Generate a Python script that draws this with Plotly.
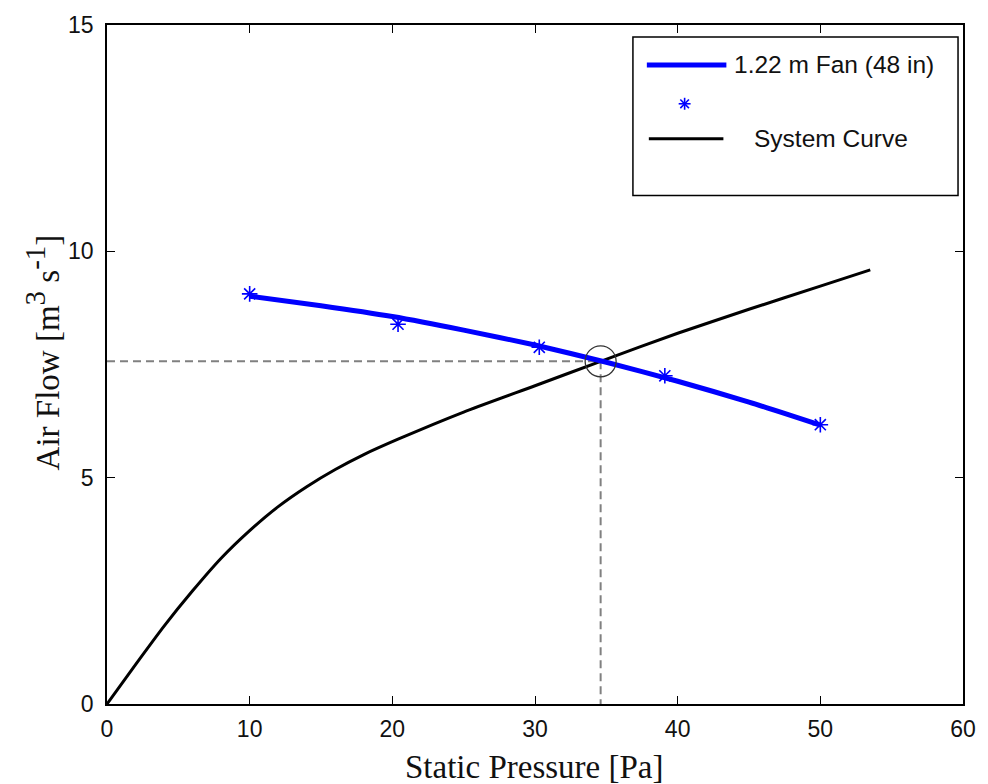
import plotly.graph_objects as go

# Measured fan performance (static pressure in Pa, air flow in m^3/s)
fan_pressure = [10.0, 20.4, 30.3, 39.1, 50.0]
fan_flow = [9.06, 8.39, 7.88, 7.25, 6.17]

# Fitted fan curve
fit_pressure = [10, 15, 20, 25, 30, 35, 40, 45, 50]
fit_flow = [9.01, 8.80, 8.56, 8.26, 7.93, 7.55, 7.13, 6.67, 6.16]

# System resistance curve
sys_pressure = [0, 2, 4, 6, 8, 10, 12, 14, 16, 18, 20.4, 25, 30, 34.6, 40, 45, 50, 53.5]
sys_flow = [0, 0.87, 1.72, 2.5, 3.22, 3.83, 4.36, 4.80, 5.18, 5.51, 5.85, 6.45, 7.03, 7.57, 8.19, 8.72, 9.23, 9.59]

# Operating point (intersection of fan and system curves)
op_pressure = 34.6
op_flow = 7.57

x_ticks = [0, 10, 20, 30, 40, 50, 60]
y_ticks = [0, 5, 10, 15]

W, H = 988, 784
L, R, T, B = 107, 20, 23, 80
PW, PH = W - L - R, H - T - B


def px(xp):
    return (xp - L) / PW


def py(yp):
    return (H - B - yp) / PH


fig = go.Figure()

# Dashed guides from the operating point to the axes
guide = dict(color="#808080", width=2, dash="8px,5px")
fig.add_trace(go.Scatter(x=[0, op_pressure], y=[op_flow, op_flow], mode="lines",
                         line=guide, showlegend=False, hoverinfo="skip"))
fig.add_trace(go.Scatter(x=[op_pressure, op_pressure], y=[op_flow, 0], mode="lines",
                         line=guide, showlegend=False, hoverinfo="skip"))

fig.add_trace(go.Scatter(x=sys_pressure, y=sys_flow, mode="lines",
                         line=dict(color="black", width=3, shape="spline", smoothing=0.5),
                         name="System Curve", showlegend=False))
fig.add_trace(go.Scatter(x=fit_pressure, y=fit_flow, mode="lines",
                         line=dict(color="#0000ff", width=5, shape="spline", smoothing=0.6),
                         name="1.22 m Fan (48 in)", showlegend=False))
fig.add_trace(go.Scatter(x=fan_pressure, y=fan_flow, mode="markers",
                         marker=dict(symbol="asterisk-open", size=13, color="#0000ff",
                                     line=dict(color="#0000ff", width=1.6)),
                         showlegend=False))
fig.add_trace(go.Scatter(x=[op_pressure], y=[op_flow], mode="markers",
                         marker=dict(symbol="circle-open", size=31, color="#333333",
                                     line=dict(color="#333333", width=1.3)),
                         showlegend=False, hoverinfo="skip"))

shapes = []
annotations = []

# Legend box
shapes.append(dict(type="rect", xref="paper", yref="paper",
                   x0=px(636), x1=px(963), y0=py(194), y1=py(35),
                   line=dict(color="black", width=1.5), fillcolor="white", layer="above"))
shapes.append(dict(type="line", xref="paper", yref="paper",
                   x0=px(650), x1=px(730), y0=py(63), y1=py(63),
                   line=dict(color="#0000ff", width=5), layer="above"))
# asterisk glyph for the marker entry
cx, cy, r = 688, 102, 6
for dx, dy in [(r, 0), (0, r), (r * 0.72, r * 0.72), (r * 0.72, -r * 0.72)]:
    shapes.append(dict(type="line", xref="paper", yref="paper",
                       x0=px(cx - dx), x1=px(cx + dx), y0=py(cy - dy), y1=py(cy + dy),
                       line=dict(color="#0000ff", width=1.6), layer="above"))
shapes.append(dict(type="line", xref="paper", yref="paper",
                   x0=px(652), x1=px(727), y0=py(137), y1=py(137),
                   line=dict(color="black", width=3), layer="above"))

legend_font = dict(family="Liberation Sans, Arial, sans-serif", size=24.5, color="#111111")
annotations.append(dict(xref="paper", yref="paper", x=px(736), y=py(63),
                        text="1.22 m Fan (48 in)", showarrow=False,
                        xanchor="left", yanchor="middle", font=legend_font))
annotations.append(dict(xref="paper", yref="paper", x=px(756), y=py(137),
                        text="System Curve", showarrow=False,
                        xanchor="left", yanchor="middle", font=legend_font))

title_font = dict(family="Liberation Serif, Times New Roman, serif", size=33, color="#111111")
annotations.append(dict(xref="paper", yref="paper", x=px(536), y=py(767),
                        text="Static Pressure [Pa]", showarrow=False,
                        xanchor="center", yanchor="middle", font=title_font))
annotations.append(dict(xref="paper", yref="paper", x=px(42), y=py(351),
                        text="Air Flow [m<sup><span style='font-size:29px'>3</span></sup> "
                             "s<sup><span style='font-size:29px'>-1</span></sup>]",
                        showarrow=False, textangle=-90, xanchor="center", yanchor="middle",
                        font=title_font))

tick_font = dict(family="Liberation Sans, Arial, sans-serif", size=23, color="#111111")
axis_common = dict(showgrid=False, zeroline=False, showline=True, linecolor="black",
                   linewidth=1.5, mirror="ticks", ticks="inside", ticklen=8,
                   tickwidth=1.2, tickcolor="black", tickfont=tick_font)

fig.update_layout(
    width=W, height=H,
    margin=dict(l=L, r=R, t=T, b=B, pad=0),
    paper_bgcolor="white", plot_bgcolor="white",
    xaxis=dict(range=[0, 60], tickvals=x_ticks, ticktext=[str(v) for v in x_ticks],
               ticklabelstandoff=4, **axis_common),
    yaxis=dict(range=[0, 15], tickvals=y_ticks, ticktext=[str(v) for v in y_ticks],
               ticklabelstandoff=7, **axis_common),
    shapes=shapes, annotations=annotations,
)

fig.write_html("out.html", config={"displayModeBar": False})
